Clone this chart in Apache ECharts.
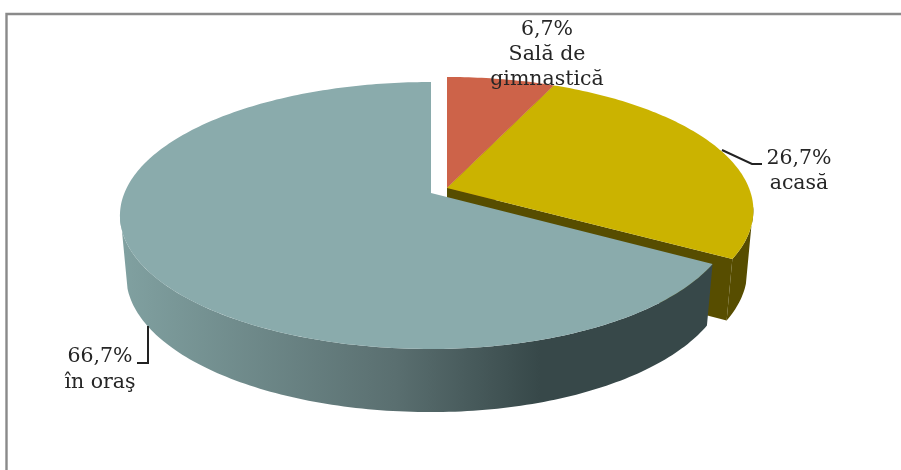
<!DOCTYPE html>
<html>
<head>
<meta charset="utf-8">
<style>html,body{margin:0;padding:0;background:#fff}#c{width:901px;height:470px}</style>
<script src="https://cdn.jsdelivr.net/npm/echarts@6/dist/echarts.min.js"></script>
</head>
<body>
<div id="c"></div>
<script>
// Data
var categories = ['Sală de gimnastică', 'acasă', 'în oraş'];
var percentLabels = ['6,7%', '26,7%', '66,7%'];
var values = [6.7, 26.7, 66.7];

// Slice appearance, in the same order as the data
var topColors = ['#cd6349', '#cbb300', '#8aabac'];
var wallColors = ['#6e3226', '#574d00', '#384a4c'];
var explode = [[16, -5], [16, -5], [0, 0]];
var radiusRight = [302, 302, 298];
var labelLines = [
  ['6,7%', 'Sală de', 'gimnastică'],
  ['26,7%', 'acasă'],
  ['66,7%', 'în oraş']
];
var labelCenters = [[547, 30, 25], [799, 159, 25], [100, 357, 26]];
var leaders = [null, [[722, 150], [752, 164], [762, 164]], [[148, 326], [148, 363], [137, 363]]];

// Perspective model of the tilted disc
var apexX = 431, apexY = 193, radiusLeft = 306.6, radiusY = 129.7, persp = 0.1685;
var depthY = 60, depthScaleX = 0.98, depthScaleY = 1.02;
var wallTopFrom = 98, wallTopTo = 262, wallBottomFrom = 105, wallBottomTo = 255;
var total = values.reduce(function (a, b) { return a + b; }, 0);

function project(i, deg, bottom) {
  var t = deg * Math.PI / 180, u = Math.sin(t), v = Math.cos(t), w = 1 + persp * v, off = explode[i];
  return [
    apexX + off[0] + (bottom ? depthScaleX : 1) * (u >= 0 ? radiusRight[i] : radiusLeft) * u / w,
    apexY + off[1] + (bottom ? depthY : 0) - (bottom ? depthScaleY : 1) * radiusY * v / w
  ];
}
function arc(i, from, to, bottom) {
  var pts = [], n = Math.max(2, Math.ceil(Math.abs(to - from)));
  for (var k = 0; k <= n; k++) pts.push(project(i, from + (to - from) * k / n, bottom));
  return pts;
}
function sliceRange(i, api) {
  var before = 0;
  for (var k = 0; k < i; k++) before += values[k];
  var start = before / total * 360;
  return [start, start + api.value(0) / total * 360];
}

var wallGradient = {
  type: 'linear', global: true, x: 125, y: 0, x2: 540, y2: 0,
  colorStops: [
    { offset: 0, color: '#80a0a0' },
    { offset: 0.65, color: '#5a6f70' },
    { offset: 1, color: '#374849' }
  ]
};

function renderSlice(params, api) {
  var i = params.dataIndex, r = sliceRange(i, api), off = explode[i], kids = [];
  var apexT = [apexX + off[0], apexY + off[1]];
  var apexB = [apexX + off[0], apexY + off[1] + depthY];
  var endT = project(i, r[1], false), endB = project(i, r[1], true);
  kids.push({ type: 'polygon', shape: { points: [apexT, endT, endB, apexB] }, style: { fill: wallColors[i] } });
  if (r[1] > wallTopFrom) {
    var outer = arc(i, Math.max(r[0], wallTopFrom), Math.min(r[1], wallTopTo), false)
      .concat(arc(i, Math.min(r[1], wallBottomTo), Math.max(r[0], wallBottomFrom), true));
    kids.push({ type: 'polygon', shape: { points: outer }, style: { fill: i === 2 ? wallGradient : wallColors[i] } });
  }
  kids.push({ type: 'polygon', shape: { points: [apexT].concat(arc(i, r[0], r[1], false)) }, style: { fill: topColors[i] } });
  return { type: 'group', children: kids };
}

function renderLabel(params, api) {
  var i = params.dataIndex, c = labelCenters[i], kids = [];
  labelLines[i].forEach(function (line, n) {
    kids.push({
      type: 'text',
      style: {
        x: c[0], y: c[1] + n * c[2], text: line, align: 'center', verticalAlign: 'middle',
        fill: '#262626', font: '20.5px "DejaVu Serif"'
      }
    });
  });
  if (leaders[i]) {
    kids.push({ type: 'polyline', shape: { points: leaders[i] }, style: { stroke: '#222', lineWidth: 2, fill: 'none' } });
  }
  return { type: 'group', children: kids };
}

var chart = echarts.init(document.getElementById('c'), null, { renderer: 'canvas' });
chart.setOption({
  animation: false,
  backgroundColor: '#ffffff',
  graphic: [{
    type: 'polyline',
    shape: { points: [[6.5, 470], [6.5, 14], [901, 14]] },
    style: { stroke: '#8a8a8a', lineWidth: 2.4, fill: 'none' }
  }],
  series: [
    { type: 'custom', coordinateSystem: 'none', z: 2, renderItem: renderSlice,
      data: values.map(function (v, i) { return { name: categories[i], value: [v] }; }) },
    { type: 'custom', coordinateSystem: 'none', z: 3, renderItem: renderLabel,
      data: values.map(function (v, i) { return { name: percentLabels[i], value: [v] }; }) }
  ]
});
</script>
</body>
</html>
